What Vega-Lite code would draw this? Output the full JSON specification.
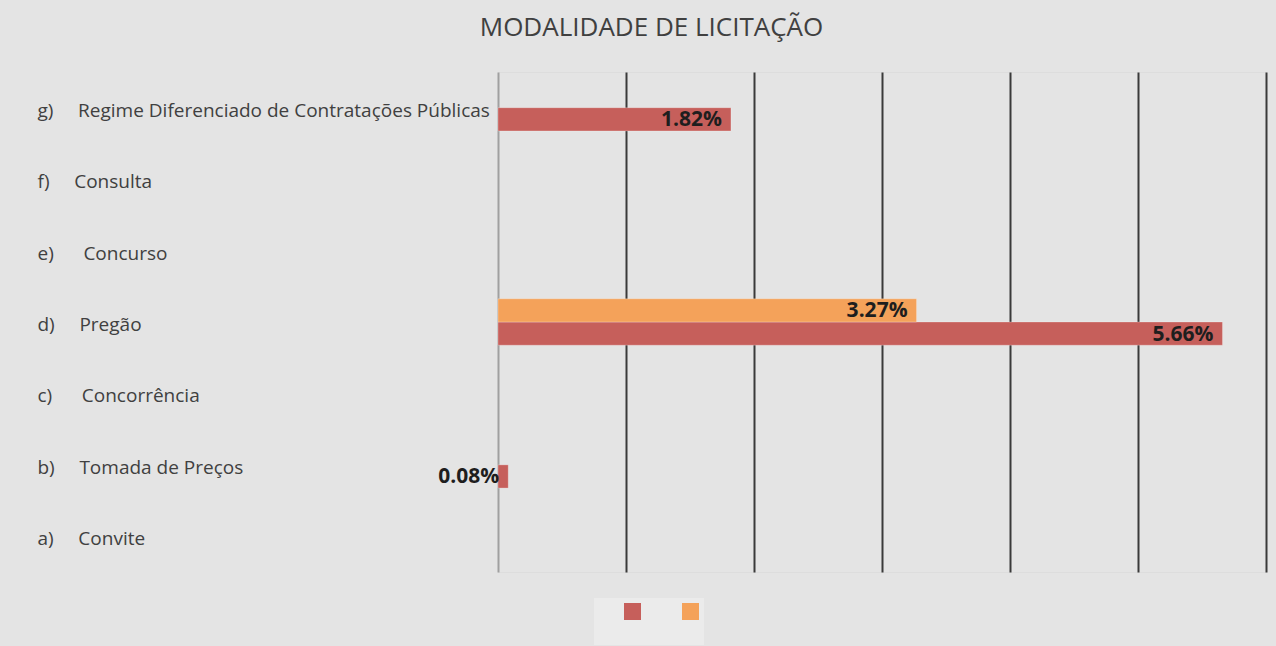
{
  "$schema": "https://vega.github.io/schema/vega-lite/v6.json",
  "autosize": {"type": "none"},
  "width": 768,
  "height": 500,
  "padding": {"left": 498, "top": 72, "right": 10, "bottom": 74},
  "background": "#e4e4e4",
  "title": {
    "text": "MODALIDADE DE LICITAÇÃO",
    "frame": "bounds",
    "anchor": "middle",
    "fontSize": 26,
    "font": "Open Sans",
    "fontWeight": "normal",
    "color": "#404040",
    "offset": 31
  },
  "data": {
    "values": [
      {"cat": "a)\u00a0\u00a0\u00a0\u00a0 Convite", "serie": "Série 1", "valor": null},
      {"cat": "a)\u00a0\u00a0\u00a0\u00a0 Convite", "serie": "Série 2", "valor": null},
      {"cat": "b)\u00a0\u00a0\u00a0\u00a0 Tomada de Preços", "serie": "Série 1", "valor": 0.0008},
      {"cat": "b)\u00a0\u00a0\u00a0\u00a0 Tomada de Preços", "serie": "Série 2", "valor": null},
      {"cat": "c)\u00a0\u00a0\u00a0\u00a0\u00a0 Concorrência", "serie": "Série 1", "valor": null},
      {"cat": "c)\u00a0\u00a0\u00a0\u00a0\u00a0 Concorrência", "serie": "Série 2", "valor": null},
      {"cat": "d)\u00a0\u00a0\u00a0\u00a0 Pregão", "serie": "Série 1", "valor": 0.0566},
      {"cat": "d)\u00a0\u00a0\u00a0\u00a0 Pregão", "serie": "Série 2", "valor": 0.0327},
      {"cat": "e)\u00a0\u00a0\u00a0\u00a0\u00a0 Concurso", "serie": "Série 1", "valor": null},
      {"cat": "e)\u00a0\u00a0\u00a0\u00a0\u00a0 Concurso", "serie": "Série 2", "valor": null},
      {"cat": "f)\u00a0\u00a0\u00a0\u00a0 Consulta", "serie": "Série 1", "valor": null},
      {"cat": "f)\u00a0\u00a0\u00a0\u00a0 Consulta", "serie": "Série 2", "valor": null},
      {"cat": "g)\u00a0\u00a0\u00a0\u00a0 Regime Diferenciado de Contratações Públicas", "serie": "Série 1", "valor": 0.0182},
      {"cat": "g)\u00a0\u00a0\u00a0\u00a0 Regime Diferenciado de Contratações Públicas", "serie": "Série 2", "valor": null}
    ]
  },
  "encoding": {
    "y": {
      "field": "cat",
      "type": "nominal",
      "sort": "descending",
      "scale": {"paddingInner": 0.35, "paddingOuter": 0.175},
      "axis": {
        "title": null,
        "labelAlign": "left",
        "labelPadding": 461,
        "labelLimit": 520,
        "labelFont": "Open Sans",
        "labelFontSize": 19,
        "labelColor": "#404040",
        "labelOffset": 3,
        "ticks": false,
        "domain": false
      }
    },
    "yOffset": {"field": "serie", "type": "nominal", "sort": "descending"},
    "x": {
      "field": "valor",
      "type": "quantitative",
      "scale": {"domain": [0, 0.06], "nice": false},
      "axis": {
        "title": null,
        "labels": false,
        "ticks": false,
        "domain": false,
        "values": [0, 0.01, 0.02, 0.03, 0.04, 0.05, 0.06],
        "gridColor": {"condition": {"test": "datum.value === 0", "value": "#a0a0a0"}, "value": "#3a3a3a"},
        "gridWidth": 2,
        "gridOpacity": 1
      }
    }
  },
  "layer": [
    {
      "mark": {"type": "bar", "stroke": "#ffffff", "strokeOpacity": 0.25, "strokeWidth": 1},
      "encoding": {
        "color": {
          "field": "serie",
          "type": "nominal",
          "scale": {"domain": ["Série 1", "Série 2"], "range": ["#c65f5b", "#f4a25a"]},
          "legend": {
            "orient": "none",
            "legendX": 96,
            "legendY": 526,
            "direction": "horizontal",
            "title": " ",
            "titleOrient": "bottom",
            "titleFontSize": 16,
            "titlePadding": 4,
            "labelExpr": "''",
            "symbolType": "square",
            "symbolSize": 289,
            "symbolStrokeWidth": 0,
            "symbolOpacity": 1,
            "symbolOffset": 25,
            "columnPadding": 16,
            "padding": 5,
            "fillColor": "#ebebeb",
            "labelOffset": 0
          }
        }
      }
    },
    {
      "mark": {"type": "text", "align": "right", "baseline": "middle", "dx": -9, "dy": 1, "font": "Open Sans", "fontSize": 21, "fontWeight": "bold", "color": "#1e1e1e"},
      "transform": [{"filter": "datum.valor != null"}],
      "encoding": {
        "text": {"field": "valor", "type": "quantitative", "format": ".2%"}
      }
    }
  ]
}
